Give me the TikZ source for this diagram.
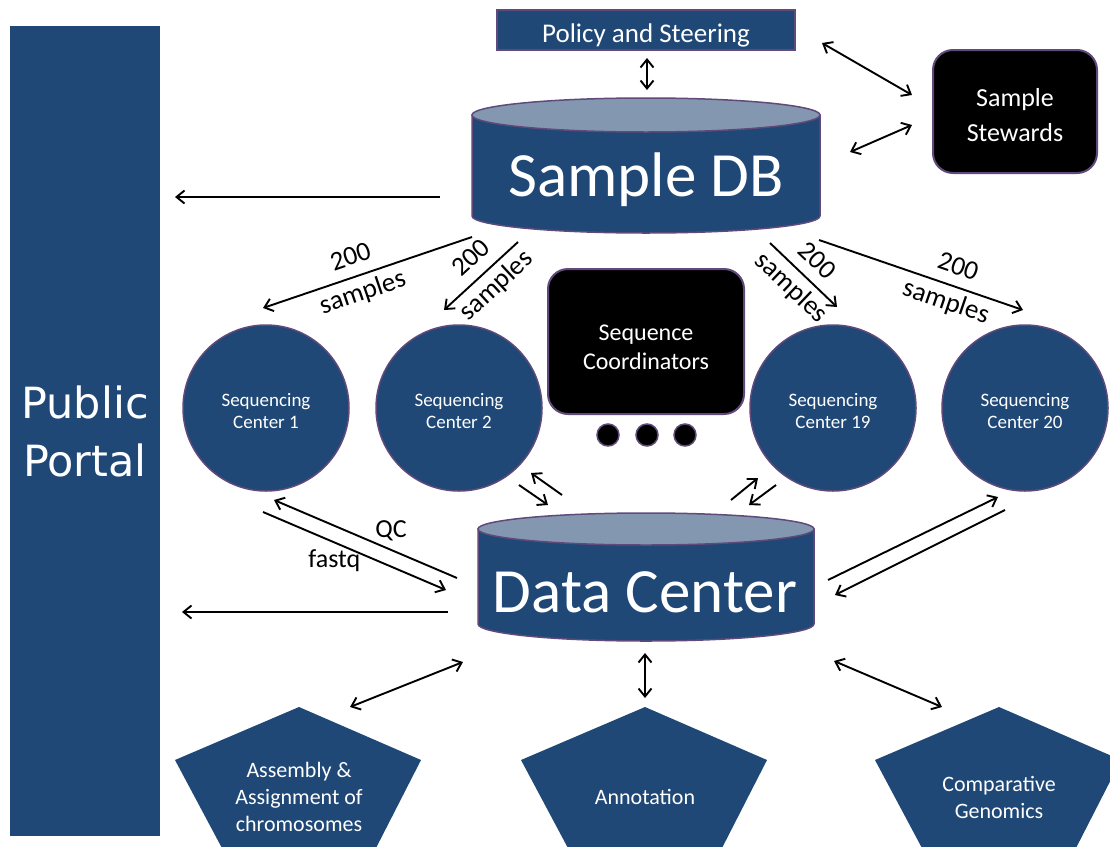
\documentclass[tikz,border=0pt]{standalone}
\usepackage{fontspec}
\setmainfont{Carlito}
\newfontfamily\dejavu{DejaVu Sans}
\usetikzlibrary{arrows.meta}
\definecolor{dbblue}{RGB}{31,72,118}
\definecolor{topblue}{RGB}{132,151,176}
\definecolor{pur}{RGB}{96,74,123}
\tikzset{
 arr/.style={-{Straight Barb[length=8pt,width=13pt]}, line width=1.9pt},
 darr/.style={{Straight Barb[length=8pt,width=13pt]}-{Straight Barb[length=8pt,width=13pt]}, line width=1.9pt},
 sc/.style={circle, draw=pur, line width=1.5pt, fill=dbblue, minimum size=166pt, inner sep=0pt},
 sctext/.style={text=white, align=center, font=\fontsize{19}{22}\selectfont, yshift=-3pt},
 blackbox/.style={rounded corners=20pt, draw=pur, line width=2pt, fill=black},
 boxtext/.style={text=white, align=center, yshift=-4pt},
 lbl/.style={font=\fontsize{27}{37}\selectfont, align=center, sloped, inner sep=1pt},
 edgetxt/.style={font=\fontsize{26}{30}\selectfont, inner sep=1pt},
 pent/.style={fill=dbblue},
 penttext/.style={text=white, align=center, font=\fontsize{22}{27}\selectfont},
 cyl/.style={draw=pur, line width=1.5pt, fill=dbblue},
 cyltop/.style={draw=pur, line width=1.5pt, fill=topblue},
 bigtxt/.style={text=white, font=\fontsize{63}{70}\selectfont, anchor=base},
 dot/.style={circle, fill=black, draw=pur, line width=1.5pt, minimum size=22pt, inner sep=0pt}
}
\begin{document}
\begin{tikzpicture}[x=1pt,y=-1pt]
\clip (0,0) rectangle (1110,846);
\fill[white] (0,0) rectangle (1110,846);

% Public portal
\node[fill=dbblue, minimum width=150pt, minimum height=810pt, text=white, align=center,
  font=\dejavu\fontsize{43}{58}\selectfont] (pp) at (85,431) {Public\\Portal};

% Policy and Steering
\node[draw=pur, line width=1.5pt, fill=dbblue, minimum width=298pt, minimum height=40pt,
  label={[boxtext, yshift=-1pt, font=\fontsize{27}{30}\selectfont]center:Policy and Steering}] (pol) at (646,30) {};

% Sample DB cylinder
\path[cyl] (472,115) -- (472,216) arc[start angle=180, end angle=0, x radius=174, y radius=17]
  -- (820,115) -- cycle;
\path[cyltop] (646,115) ellipse[x radius=174, y radius=17];
\node[bigtxt] (sdb) at (646,196) {Sample DB};

% Sample Stewards
\node[blackbox, minimum width=164pt, minimum height=123pt,
  label={[boxtext, font=\fontsize{26}{35}\selectfont]center:{Sample\\Stewards}}] (stw) at (1015,111.5) {};

% Sequence Coordinators
\node[blackbox, minimum width=196pt, minimum height=145pt,
  label={[boxtext, yshift=-2pt, font=\fontsize{24}{29}\selectfont]center:{Sequence\\Coordinators}}] (coo) at (646,341.5) {};
\node[dot] (d1) at (608,435) {};
\node[dot] (d2) at (647,435) {};
\node[dot] (d3) at (685,435) {};

% Sequencing centers
\node[sc, label={[sctext]center:{Sequencing\\Center 1}}] (sc1) at (266,408) {};
\node[sc, label={[sctext]center:{Sequencing\\Center 2}}] (sc2) at (459,408) {};
\node[sc, label={[sctext]center:{Sequencing\\Center 19}}] (sc19) at (833,408) {};
\node[sc, label={[sctext]center:{Sequencing\\Center 20}}] (sc20) at (1025,408) {};

% Data Center cylinder
\path[cyl] (478,529) -- (478,624) arc[start angle=180, end angle=0, x radius=168, y radius=17]
  -- (814,529) -- cycle;
\path[cyltop] (646,529) ellipse[x radius=168, y radius=16];
\node[bigtxt] (dc) at (645,612) {Data Center};

% Pentagons
\path[pent] (299,707) -- (421,760) -- (375,850) -- (223,850) -- (175,760) -- cycle;
\path[pent] (645,707) -- (767,760) -- (721,850) -- (569,850) -- (521,760) -- cycle;
\path[pent] (999,707) -- (1121,760) -- (1075,850) -- (923,850) -- (875,760) -- cycle;
\node[penttext] (asm) at (299,797) {Assembly \&\\Assignment of\\chromosomes};
\node[penttext] (ann) at (645,797) {Annotation};
\node[penttext] (cg) at (999,797) {Comparative\\Genomics};

% connector end points
\coordinate (a1) at (647,58);   \coordinate (a2) at (647,90);
\coordinate (b1) at (822,43);   \coordinate (b2) at (912,95);
\coordinate (c1) at (850,152);  \coordinate (c2) at (912,125);
\coordinate (e1) at (440,197);  \coordinate (e2) at (175,197);
\coordinate (s1a) at (472,237); \coordinate (s1b) at (263,308);
\coordinate (s2a) at (518,242); \coordinate (s2b) at (444,310);
\coordinate (s3a) at (770,243); \coordinate (s3b) at (837,307);
\coordinate (s4a) at (819,240); \coordinate (s4b) at (1023,310);
\coordinate (q1) at (457,578);  \coordinate (q2) at (274,500);
\coordinate (f1) at (263,512);  \coordinate (f2) at (446,590);
\coordinate (g1) at (448,612);  \coordinate (g2) at (182,612);
\coordinate (h1) at (519,485);  \coordinate (h2) at (548,505);
\coordinate (h3) at (562,495);  \coordinate (h4) at (531,473);
\coordinate (i1) at (731,500);  \coordinate (i2) at (758,478);
\coordinate (i3) at (776,485);  \coordinate (i4) at (749,505);
\coordinate (j1) at (828,580);  \coordinate (j2) at (998,497);
\coordinate (j3) at (1005,510); \coordinate (j4) at (835,595);
\coordinate (k1) at (350,707);  \coordinate (k2) at (463,662);
\coordinate (l1) at (645,653);  \coordinate (l2) at (645,698);
\coordinate (m1) at (834,661);  \coordinate (m2) at (942,707);

% connectors
\draw[darr] (a1) -- (a2);
\draw[darr] (b1) -- (b2);
\draw[darr] (c1) -- (c2);
\draw[arr] (e1) -- (e2);
\draw[arr] (s1a) -- node[lbl, pos=0.55] {200\\samples} (s1b);
\draw[arr] (s2a) -- node[lbl, pos=0.45] {200\\samples} (s2b);
\draw[arr] (s3a) -- node[lbl, pos=0.5] {200\\samples} (s3b);
\draw[arr] (s4a) -- node[lbl, pos=0.65] {200\\samples} (s4b);
\draw[arr] (q1) -- node[edgetxt, pos=0.36, above=7pt] {QC} (q2);
\draw[arr] (f1) -- node[edgetxt, pos=0.39, below=5pt] {fastq} (f2);
\draw[arr] (g1) -- (g2);
\draw[arr] (h1) -- (h2);
\draw[arr] (h3) -- (h4);
\draw[arr] (i1) -- (i2);
\draw[arr] (i3) -- (i4);
\draw[arr] (j1) -- (j2);
\draw[arr] (j3) -- (j4);
\draw[darr] (k1) -- (k2);
\draw[darr] (l1) -- (l2);
\draw[darr] (m1) -- (m2);
\end{tikzpicture}
\end{document}
